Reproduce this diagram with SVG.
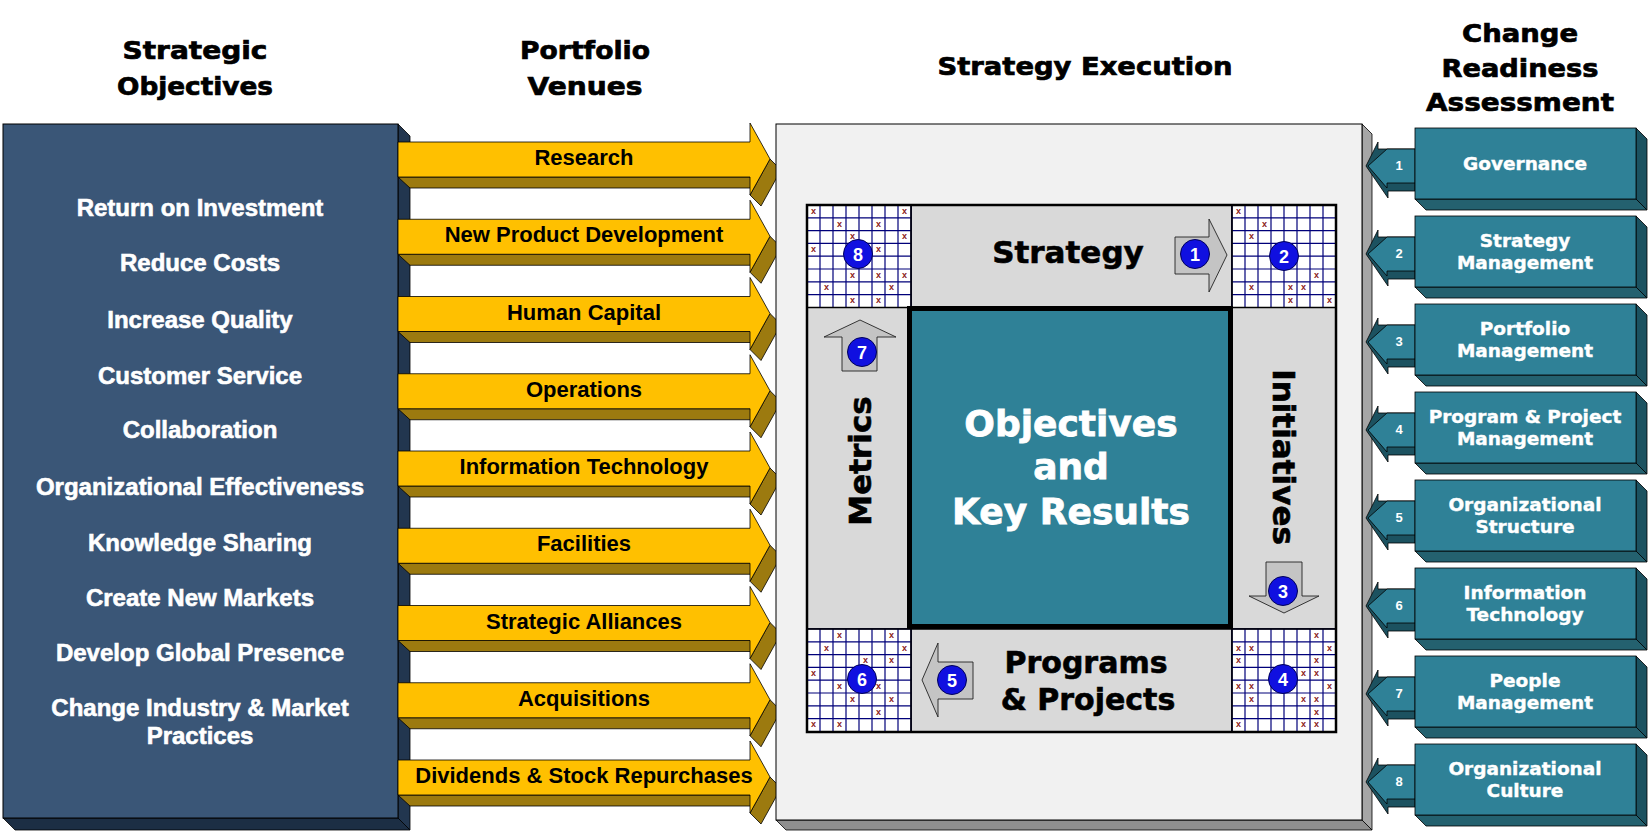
<svg xmlns="http://www.w3.org/2000/svg" xmlns:xlink="http://www.w3.org/1999/xlink" width="1650" height="834" viewBox="0 0 1650 834">
<style>
.hdr{font-family:"DejaVu Sans","Liberation Sans",sans-serif;font-weight:bold;font-size:25px;fill:#000;stroke:#000;stroke-width:0.7;text-anchor:middle}
.obj{font-family:"Liberation Sans",Arial,sans-serif;font-weight:bold;font-size:24px;fill:#fff;stroke:#fff;stroke-width:0.6;text-anchor:middle}
.ven{font-family:"Liberation Sans",Arial,sans-serif;font-weight:bold;font-size:22px;fill:#000;text-anchor:middle}
.stp{font-family:"DejaVu Sans","Liberation Sans",sans-serif;font-weight:bold;font-size:31px;fill:#000;stroke:#000;stroke-width:0.6;text-anchor:middle}
.ctr{font-family:"DejaVu Sans","Liberation Sans",sans-serif;font-weight:bold;font-size:36px;fill:#fff;stroke:#fff;stroke-width:0.8;text-anchor:middle}
.box{font-family:"DejaVu Sans","Liberation Sans",sans-serif;font-weight:bold;font-size:18.5px;fill:#fff;stroke:#fff;stroke-width:0.4;text-anchor:middle}
.num{font-family:"Liberation Sans",Arial,sans-serif;font-weight:bold;font-size:18px;fill:#fff;text-anchor:middle}
.anum{font-family:"Liberation Sans",Arial,sans-serif;font-weight:bold;font-size:13px;fill:#fff;text-anchor:middle}
.xm{font-family:"Liberation Sans",Arial,sans-serif;font-weight:bold;font-size:9px;fill:#8b2020;text-anchor:middle}
.gold{fill:#9c7a0f;stroke:#000;stroke-width:0.8}
.yel{fill:#ffc000;stroke:#000;stroke-width:0.8}
.strip{fill:#d9d9d9;stroke:#000;stroke-width:1.5}
.garrow{fill:#c4c4c4;stroke:#222;stroke-width:0.9}
.badge{fill:#1010e0;stroke:#00005a;stroke-width:1}
.tfront{fill:#2f8197;stroke:#000;stroke-width:0.8}
.tside{fill:#1c5260;stroke:#000;stroke-width:0.8}
.tbot{fill:#24616f;stroke:#000;stroke-width:0.8}
</style>
<defs>
<g id="yarrow">
<polygon class="gold" points="398,35 750,35 760,46 410,46"/>
<polygon class="gold" points="770,17 781,28 761,64 750,53"/>
<polygon class="yel" points="398,0 750,0 750,-19 770,17 750,53 750,35 398,35"/>
</g>
<g id="tarrow">
<polygon class="tside" points="1366,2 1378,-22 1378,-15 1415,-15 1415,27 1388,27 1388,34"/>
<polygon class="tfront" points="1368,2 1387,-15 1415,-15 1415,19 1387,19 1387,24"/>
</g>
<g id="tbox">
<polygon class="tside" points="1636,0 1647,11 1647,82 1636,71"/>
<polygon class="tbot" points="1415,71 1636,71 1647,82 1426,82"/>
<rect class="tfront" x="1415" y="0" width="221" height="71"/>
</g>
<g id="grid">
<rect x="0" y="0" width="104" height="102.5" fill="#fff"/>
<path d="M0 0V102.5M13 0V102.5M26 0V102.5M39 0V102.5M52 0V102.5M65 0V102.5M78 0V102.5M91 0V102.5M104 0V102.5M0 0H104M0 12.8H104M0 25.6H104M0 38.4H104M0 51.2H104M0 64H104M0 76.8H104M0 89.6H104M0 102.5H104" stroke="#00007a" stroke-width="1.2" fill="none"/>
</g>
</defs>
<rect x="0" y="0" width="1650" height="834" fill="#fff"/>

<g id="headers">
<text class="hdr" x="195" y="59" textLength="145" lengthAdjust="spacingAndGlyphs">Strategic</text>
<text class="hdr" x="195" y="94.5" textLength="156" lengthAdjust="spacingAndGlyphs">Objectives</text>
<text class="hdr" x="585" y="59" textLength="130" lengthAdjust="spacingAndGlyphs">Portfolio</text>
<text class="hdr" x="585" y="94.5" textLength="115" lengthAdjust="spacingAndGlyphs">Venues</text>
<text class="hdr" x="1085" y="75" textLength="295" lengthAdjust="spacingAndGlyphs">Strategy Execution</text>
<text class="hdr" x="1520" y="41.5" textLength="116" lengthAdjust="spacingAndGlyphs">Change</text>
<text class="hdr" x="1520" y="76.5" textLength="157" lengthAdjust="spacingAndGlyphs">Readiness</text>
<text class="hdr" x="1520" y="111" textLength="188" lengthAdjust="spacingAndGlyphs">Assessment</text>
</g>

<g id="strategic-objectives">
<polygon points="398,124 410,136 410,830 398,818" fill="#22364f" stroke="#000" stroke-width="0.8"/>
<polygon points="3,818 398,818 410,830 15,830" fill="#1c2e44" stroke="#000" stroke-width="0.8"/>
<rect x="3" y="124" width="395" height="694" fill="#3a5677" stroke="#000" stroke-width="1"/>
<text class="obj" x="200" y="216">Return on Investment</text>
<text class="obj" x="200" y="271">Reduce Costs</text>
<text class="obj" x="200" y="327.5">Increase Quality</text>
<text class="obj" x="200" y="383.5">Customer Service</text>
<text class="obj" x="200" y="438">Collaboration</text>
<text class="obj" x="200" y="495">Organizational Effectiveness</text>
<text class="obj" x="200" y="550.5">Knowledge Sharing</text>
<text class="obj" x="200" y="605.5">Create New Markets</text>
<text class="obj" x="200" y="661">Develop Global Presence</text>
<text class="obj" x="200" y="716">Change Industry &amp; Market</text>
<text class="obj" x="200" y="743.5">Practices</text>
</g>

<g id="venue-research"><use xlink:href="#yarrow" href="#yarrow" y="142"/><text class="ven" x="584" y="165">Research</text></g>
<g id="venue-new-product"><use xlink:href="#yarrow" href="#yarrow" y="219.25"/><text class="ven" x="584" y="242.25">New Product Development</text></g>
<g id="venue-human-capital"><use xlink:href="#yarrow" href="#yarrow" y="296.5"/><text class="ven" x="584" y="319.5">Human Capital</text></g>
<g id="venue-operations"><use xlink:href="#yarrow" href="#yarrow" y="373.75"/><text class="ven" x="584" y="396.75">Operations</text></g>
<g id="venue-it"><use xlink:href="#yarrow" href="#yarrow" y="451"/><text class="ven" x="584" y="474">Information Technology</text></g>
<g id="venue-facilities"><use xlink:href="#yarrow" href="#yarrow" y="528.25"/><text class="ven" x="584" y="551.25">Facilities</text></g>
<g id="venue-alliances"><use xlink:href="#yarrow" href="#yarrow" y="605.5"/><text class="ven" x="584" y="628.5">Strategic Alliances</text></g>
<g id="venue-acquisitions"><use xlink:href="#yarrow" href="#yarrow" y="682.75"/><text class="ven" x="584" y="705.75">Acquisitions</text></g>
<g id="venue-dividends"><use xlink:href="#yarrow" href="#yarrow" y="760"/><text class="ven" x="584" y="783">Dividends &amp; Stock Repurchases</text></g>

<g id="strategy-execution">
<polygon points="1362,124 1372,134 1372,830 1362,820" fill="#a6a6a6" stroke="#000" stroke-width="0.8"/>
<polygon points="776,820 1362,820 1372,830 786,830" fill="#8f8f8f" stroke="#000" stroke-width="0.8"/>
<rect x="776" y="124" width="586" height="696" fill="#f1f1f1" stroke="#000" stroke-width="1"/>
</g>

<g id="strategy">
<rect class="strip" x="911" y="205" width="321" height="102"/>
<text class="stp" x="1068" y="263">Strategy</text>
</g>
<g id="initiatives">
<rect class="strip" x="1232" y="307" width="104" height="322"/>
<text class="stp" transform="translate(1273,457) rotate(90)" x="0" y="0">Initiatives</text>
</g>
<g id="programs-projects">
<rect class="strip" x="911" y="629" width="321" height="103"/>
<text class="stp" x="1086" y="673" style="font-size:30px">Programs</text>
<text class="stp" x="1088" y="710" style="font-size:30px">&amp; Projects</text>
</g>
<g id="metrics">
<rect class="strip" x="807" y="307" width="104" height="322"/>
<text class="stp" transform="translate(871,461) rotate(-90)" x="0" y="0">Metrics</text>
</g>

<g id="corner-grids">
<use xlink:href="#grid" href="#grid" x="807" y="205"/>
<use xlink:href="#grid" href="#grid" x="1232" y="205"/>
<use xlink:href="#grid" href="#grid" x="807" y="629"/>
<use xlink:href="#grid" href="#grid" x="1232" y="629"/>
<rect x="807" y="205" width="104" height="102.5" fill="none" stroke="#000" stroke-width="1.5"/>
<rect x="1232" y="205" width="104" height="102.5" fill="none" stroke="#000" stroke-width="1.5"/>
<rect x="807" y="629" width="104" height="103" fill="none" stroke="#000" stroke-width="1.5"/>
<rect x="1232" y="629" width="104" height="103" fill="none" stroke="#000" stroke-width="1.5"/>
<g id="marks-8">
<text class="xm" x="813.5" y="213.7">x</text><text class="xm" x="904.5" y="213.7">x</text>
<text class="xm" x="839.5" y="226.5">x</text><text class="xm" x="878.5" y="226.5">x</text>
<text class="xm" x="852.5" y="239.2">x</text><text class="xm" x="904.5" y="239.2">x</text>
<text class="xm" x="813.5" y="252">x</text><text class="xm" x="878.5" y="252">x</text>
<text class="xm" x="852.5" y="277.5">x</text><text class="xm" x="878.5" y="277.5">x</text><text class="xm" x="904.5" y="277.5">x</text>
<text class="xm" x="826.5" y="290.2">x</text><text class="xm" x="891.5" y="290.2">x</text>
<text class="xm" x="852.5" y="303">x</text><text class="xm" x="878.5" y="303">x</text>
</g>
<g id="marks-2">
<text class="xm" x="1238.5" y="213.7">x</text><text class="xm" x="1264.5" y="226.5">x</text>
<text class="xm" x="1251.5" y="239.2">x</text><text class="xm" x="1316.5" y="277.5">x</text>
<text class="xm" x="1251.5" y="290.2">x</text><text class="xm" x="1290.5" y="290.2">x</text><text class="xm" x="1303.5" y="290.2">x</text>
<text class="xm" x="1290.5" y="303">x</text><text class="xm" x="1329.5" y="303">x</text>
</g>
<g id="marks-6">
<text class="xm" x="839.5" y="637.7">x</text><text class="xm" x="891.5" y="637.7">x</text>
<text class="xm" x="826.5" y="650.5">x</text><text class="xm" x="904.5" y="650.5">x</text>
<text class="xm" x="865.5" y="663.3">x</text><text class="xm" x="891.5" y="663.3">x</text>
<text class="xm" x="813.5" y="676.1">x</text>
<text class="xm" x="839.5" y="688.9">x</text><text class="xm" x="878.5" y="688.9">x</text>
<text class="xm" x="852.5" y="701.7">x</text><text class="xm" x="891.5" y="701.7">x</text>
<text class="xm" x="878.5" y="714.5">x</text>
<text class="xm" x="813.5" y="727.3">x</text><text class="xm" x="839.5" y="727.3">x</text>
</g>
<g id="marks-4">
<text class="xm" x="1316.5" y="637.7">x</text>
<text class="xm" x="1238.5" y="650.5">x</text><text class="xm" x="1251.5" y="650.5">x</text><text class="xm" x="1329.5" y="650.5">x</text>
<text class="xm" x="1238.5" y="663.3">x</text><text class="xm" x="1316.5" y="663.3">x</text>
<text class="xm" x="1303.5" y="676.1">x</text><text class="xm" x="1316.5" y="676.1">x</text>
<text class="xm" x="1238.5" y="688.9">x</text><text class="xm" x="1251.5" y="688.9">x</text><text class="xm" x="1329.5" y="688.9">x</text>
<text class="xm" x="1251.5" y="701.7">x</text><text class="xm" x="1303.5" y="701.7">x</text><text class="xm" x="1316.5" y="701.7">x</text>
<text class="xm" x="1316.5" y="714.5">x</text>
<text class="xm" x="1238.5" y="727.3">x</text><text class="xm" x="1303.5" y="727.3">x</text><text class="xm" x="1316.5" y="727.3">x</text>
</g>
</g>

<rect x="807" y="205" width="529" height="527" fill="none" stroke="#000" stroke-width="2.5"/>

<g id="objectives-key-results">
<rect x="909.5" y="308.5" width="321" height="318" fill="#2f8197" stroke="#000" stroke-width="5"/>
<text class="ctr" x="1071" y="436">Objectives</text>
<text class="ctr" x="1071" y="479">and</text>
<text class="ctr" x="1071" y="524">Key Results</text>
</g>

<g id="connectors">
<polygon class="garrow" points="1175,237 1209,237 1209,219 1227,255 1209,292 1209,274 1175,274"/>
<polygon class="garrow" points="1266,562 1302,562 1302,596 1319,596 1284,613 1249,596 1266,596"/>
<polygon class="garrow" points="973,662 973,699 938,699 938,717 922,680 938,643 938,662"/>
<polygon class="garrow" points="842,371 842,337 824,337 860,320 896,337 877,337 877,371"/>
<use xlink:href="#tarrow" href="#tarrow" y="164"/>
<use xlink:href="#tarrow" href="#tarrow" y="252"/>
<use xlink:href="#tarrow" href="#tarrow" y="340"/>
<use xlink:href="#tarrow" href="#tarrow" y="428"/>
<use xlink:href="#tarrow" href="#tarrow" y="516"/>
<use xlink:href="#tarrow" href="#tarrow" y="604"/>
<use xlink:href="#tarrow" href="#tarrow" y="692"/>
<use xlink:href="#tarrow" href="#tarrow" y="780"/>
<text class="anum" x="1399" y="170">1</text>
<text class="anum" x="1399" y="258">2</text>
<text class="anum" x="1399" y="346">3</text>
<text class="anum" x="1399" y="434">4</text>
<text class="anum" x="1399" y="522">5</text>
<text class="anum" x="1399" y="610">6</text>
<text class="anum" x="1399" y="698">7</text>
<text class="anum" x="1399" y="786">8</text>
</g>

<g id="badges">
<circle class="badge" cx="1195" cy="254" r="14.5"/><text class="num" x="1195" y="260.5">1</text>
<circle class="badge" cx="1284" cy="256" r="14.5"/><text class="num" x="1284" y="262.5">2</text>
<circle class="badge" cx="1283" cy="591" r="14.5"/><text class="num" x="1283" y="597.5">3</text>
<circle class="badge" cx="1283" cy="679" r="14.5"/><text class="num" x="1283" y="685.5">4</text>
<circle class="badge" cx="952" cy="680" r="14.5"/><text class="num" x="952" y="686.5">5</text>
<circle class="badge" cx="862" cy="679" r="14.5"/><text class="num" x="862" y="685.5">6</text>
<circle class="badge" cx="862" cy="352" r="14.5"/><text class="num" x="862" y="358.5">7</text>
<circle class="badge" cx="858" cy="254" r="14.5"/><text class="num" x="858" y="260.5">8</text>
</g>

<g id="cr-governance"><use xlink:href="#tbox" href="#tbox" y="128"/><text class="box" x="1525" y="170">Governance</text></g>
<g id="cr-strategy-management"><use xlink:href="#tbox" href="#tbox" y="216"/><text class="box" x="1525" y="247">Strategy</text><text class="box" x="1525" y="269">Management</text></g>
<g id="cr-portfolio-management"><use xlink:href="#tbox" href="#tbox" y="304"/><text class="box" x="1525" y="335">Portfolio</text><text class="box" x="1525" y="357">Management</text></g>
<g id="cr-program-project"><use xlink:href="#tbox" href="#tbox" y="392"/><text class="box" x="1525" y="423">Program &amp; Project</text><text class="box" x="1525" y="445">Management</text></g>
<g id="cr-org-structure"><use xlink:href="#tbox" href="#tbox" y="480"/><text class="box" x="1525" y="511">Organizational</text><text class="box" x="1525" y="533">Structure</text></g>
<g id="cr-info-tech"><use xlink:href="#tbox" href="#tbox" y="568"/><text class="box" x="1525" y="599">Information</text><text class="box" x="1525" y="621">Technology</text></g>
<g id="cr-people"><use xlink:href="#tbox" href="#tbox" y="656"/><text class="box" x="1525" y="687">People</text><text class="box" x="1525" y="709">Management</text></g>
<g id="cr-culture"><use xlink:href="#tbox" href="#tbox" y="744"/><text class="box" x="1525" y="775">Organizational</text><text class="box" x="1525" y="797">Culture</text></g>
</svg>
